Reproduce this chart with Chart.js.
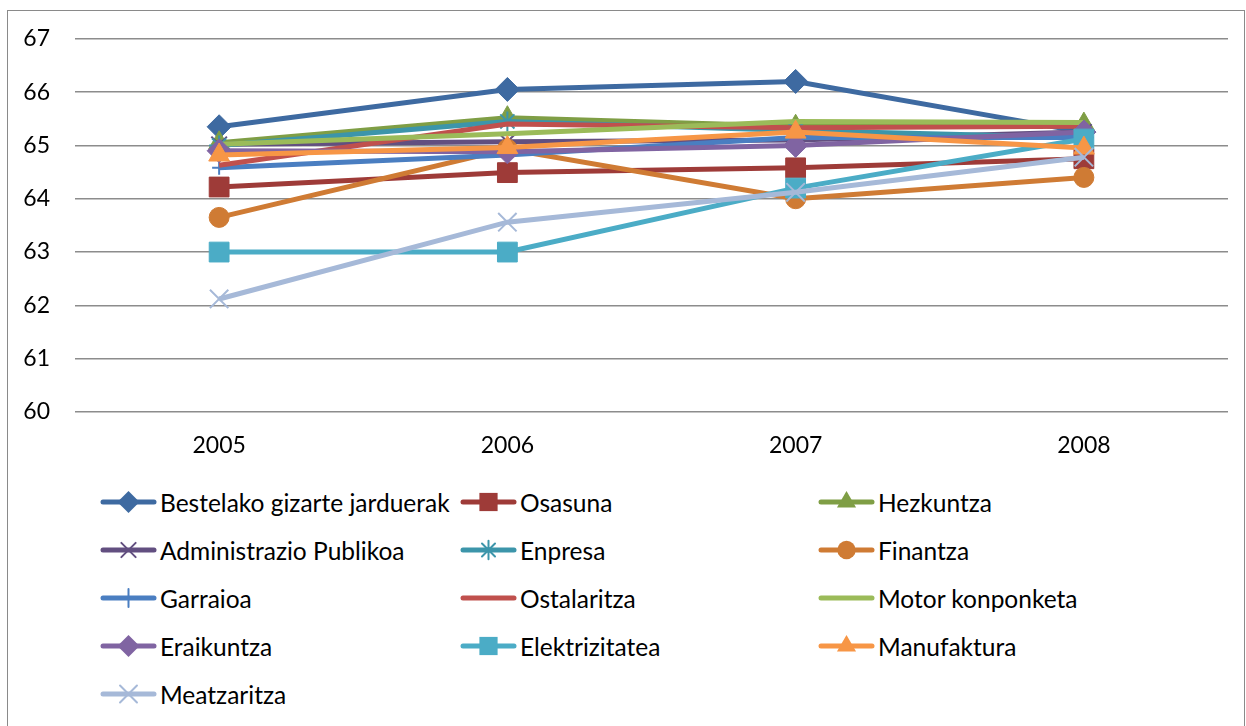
<!DOCTYPE html>
<html>
<head>
<meta charset="utf-8">
<script src="https://cdn.jsdelivr.net/npm/chart.js@4"></script>
<style>
  html, body { margin: 0; padding: 0; background: #fff; }
  body { width: 1246px; height: 726px; position: relative; overflow: hidden; font-family: Lato, "Open Sans", sans-serif; }
  .frame { position: absolute; left: 7px; top: 10px; width: 1236px; height: 730px; border: 1px solid #8a8a8a; }
  .chart-box { position: absolute; left: 0; top: 0; width: 1246px; height: 470px; }
  .legend { position: absolute; left: 0; top: 0; width: 1246px; }
  .legend-item { position: absolute; display: flex; align-items: center; height: 30px; font-size: 24.5px; color: #000; white-space: nowrap; }
  .legend-item canvas { margin-right: 3px; }
</style>
</head>
<body>
<div class="frame"></div>
<div class="chart-box"><canvas id="chart"></canvas></div>
<div class="legend" id="legend"></div>
<script>
// --- data ---
const years = ['2005', '2006', '2007', '2008'];
const yTicks = [60, 61, 62, 63, 64, 65, 66, 67];

const bestelako      = [65.35, 66.05, 66.20, 65.25];
const osasuna        = [64.22, 64.49, 64.58, 64.75];
const hezkuntza      = [65.05, 65.52, 65.36, 65.40];
const administrazio  = [65.02, 65.07, 65.10, 65.25];
const enpresa        = [65.00, 65.45, 65.28, 65.15];
const finantza       = [63.65, 64.93, 64.00, 64.40];
const garraioa       = [64.58, 64.82, 65.15, 65.15];
const ostalaritza    = [64.63, 65.40, 65.33, 65.36];
const motor          = [65.02, 65.22, 65.45, 65.43];
const eraikuntza     = [64.90, 64.88, 65.00, 65.25];
const elektrizitatea = [63.00, 63.00, 64.20, 65.12];
const manufaktura    = [64.82, 64.96, 65.25, 64.95];
const meatzaritza    = [62.12, 63.56, 64.12, 64.78];

const seriesNames = ['Bestelako gizarte jarduerak', 'Osasuna', 'Hezkuntza', 'Administrazio Publikoa', 'Enpresa', 'Finantza',
  'Garraioa', 'Ostalaritza', 'Motor konponketa', 'Eraikuntza', 'Elektrizitatea', 'Manufaktura', 'Meatzaritza'];
const seriesValues = [bestelako, osasuna, hezkuntza, administrazio, enpresa, finantza,
  garraioa, ostalaritza, motor, eraikuntza, elektrizitatea, manufaktura, meatzaritza];

// --- styles ---
const colors = ['#3e6aa1', '#9e3b38', '#7f9e45', '#624f80', '#3c95aa', '#cf7b34',
  '#4a7ec1', '#c0504d', '#9bbb59', '#8064a2', '#4bacc6', '#f79646', '#a6b9d8'];
const markers = [
  { style: 'rectRot', r: 12, bw: 1 },
  { style: 'rect', r: 14, bw: 1 },
  { style: 'triangle', r: 12, bw: 1 },
  { style: 'crossRot', r: 11, bw: 2 },
  { style: 'star', r: 10, bw: 2 },
  { style: 'circle', r: 10, bw: 1 },
  { style: 'cross', r: 7, bw: 2 },
  { style: false, r: 0, bw: 0 },
  { style: false, r: 0, bw: 0 },
  { style: 'rectRot', r: 12, bw: 1 },
  { style: 'rect', r: 14, bw: 1 },
  { style: 'triangle', r: 12, bw: 1 },
  { style: 'crossRot', r: 13, bw: 2 }
];

const datasets = seriesNames.map((name, i) => ({
  label: name,
  data: seriesValues[i],
  borderColor: colors[i],
  backgroundColor: colors[i],
  borderWidth: 5,
  pointStyle: markers[i].style || 'circle',
  pointRadius: markers[i].r,
  pointHoverRadius: markers[i].r,
  pointBorderWidth: markers[i].bw,
  pointBackgroundColor: colors[i],
  pointBorderColor: colors[i],
  tension: 0,
  order: -i
}));

Chart.defaults.font.family = 'Lato, "Open Sans", sans-serif';
Chart.defaults.color = '#000';

new Chart(document.getElementById('chart'), {
  type: 'line',
  data: { labels: years, datasets: datasets },
  options: {
    responsive: true,
    maintainAspectRatio: false,
    animation: false,
    layout: { padding: { top: 38, right: 18, left: 0, bottom: 0 } },
    plugins: { legend: { display: false }, tooltip: { enabled: false } },
    scales: {
      x: {
        offset: true,
        grid: { display: false, drawTicks: false },
        border: { display: false },
        ticks: { font: { size: 23 }, padding: 20 },
        afterFit: s => { s.height = 58; }
      },
      y: {
        min: 60,
        max: 67,
        afterBuildTicks: s => { s.ticks = yTicks.map(v => ({ value: v })); },
        grid: { color: '#8c8c8c', lineWidth: 1.5, drawTicks: false },
        border: { display: false },
        ticks: { font: { size: 23 }, padding: 25 },
        afterFit: s => { s.width = 75; }
      }
    }
  }
});

// --- legend, 3 columns like the original ---
function drawMarker(ctx, m, x, y, color) {
  if (!m.style) return;
  ctx.fillStyle = color;
  ctx.strokeStyle = color;
  ctx.lineWidth = m.bw;
  const r = m.r;
  ctx.beginPath();
  if (m.style === 'rectRot') {
    ctx.moveTo(x, y - r); ctx.lineTo(x + r, y); ctx.lineTo(x, y + r); ctx.lineTo(x - r, y); ctx.closePath(); ctx.fill();
  } else if (m.style === 'rect') {
    const s = r * Math.SQRT1_2;
    ctx.rect(x - s, y - s, 2 * s, 2 * s); ctx.fill();
  } else if (m.style === 'triangle') {
    ctx.moveTo(x, y - r);
    ctx.lineTo(x + r * Math.sin(2 * Math.PI / 3), y - r * Math.cos(2 * Math.PI / 3));
    ctx.lineTo(x + r * Math.sin(4 * Math.PI / 3), y - r * Math.cos(4 * Math.PI / 3));
    ctx.closePath(); ctx.fill();
  } else if (m.style === 'circle') {
    ctx.arc(x, y, r, 0, Math.PI * 2); ctx.fill();
  } else if (m.style === 'crossRot') {
    const d = r * Math.SQRT1_2;
    ctx.moveTo(x - d, y - d); ctx.lineTo(x + d, y + d);
    ctx.moveTo(x - d, y + d); ctx.lineTo(x + d, y - d); ctx.stroke();
  } else if (m.style === 'cross') {
    ctx.moveTo(x, y - r); ctx.lineTo(x, y + r);
    ctx.moveTo(x - r, y); ctx.lineTo(x + r, y); ctx.stroke();
  } else if (m.style === 'star') {
    const d = r * Math.SQRT1_2;
    ctx.moveTo(x, y - r); ctx.lineTo(x, y + r);
    ctx.moveTo(x - r, y); ctx.lineTo(x + r, y);
    ctx.moveTo(x - d, y - d); ctx.lineTo(x + d, y + d);
    ctx.moveTo(x - d, y + d); ctx.lineTo(x + d, y - d); ctx.stroke();
  }
}

const legendCols = [100, 460, 818];
const legendRows = [502, 550, 598, 646, 694];
const legendEl = document.getElementById('legend');
seriesNames.forEach((name, i) => {
  const item = document.createElement('div');
  item.className = 'legend-item';
  item.style.left = legendCols[i % 3] + 'px';
  item.style.top = (legendRows[Math.floor(i / 3)] - 15) + 'px';
  const sw = document.createElement('canvas');
  sw.width = 57; sw.height = 30;
  const ctx = sw.getContext('2d');
  ctx.strokeStyle = colors[i];
  ctx.lineWidth = 5;
  ctx.lineCap = 'round';
  ctx.beginPath(); ctx.moveTo(3, 15); ctx.lineTo(54, 15); ctx.stroke();
  const m = Object.assign({}, markers[i], { r: markers[i].style === 'cross' ? 9 : markers[i].r * 0.92 });
  drawMarker(ctx, m, 28.5, 15, colors[i]);
  item.appendChild(sw);
  const span = document.createElement('span');
  span.textContent = name;
  item.appendChild(span);
  legendEl.appendChild(item);
});
</script>
</body>
</html>
